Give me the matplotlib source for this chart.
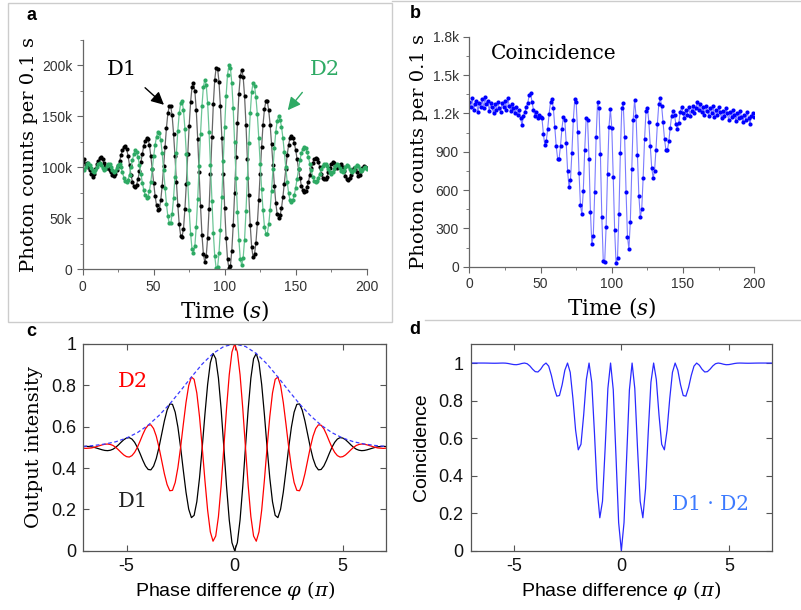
import numpy as np
import matplotlib
matplotlib.use("Agg")
import matplotlib.pyplot as plt
from matplotlib.ticker import MultipleLocator

plt.rcParams['mathtext.fontset'] = 'dejavuserif'
plt.rcParams['axes.unicode_minus'] = False

# ---- panel a: detector counts (k per 0.1 s), one value per second ----
time_s = np.arange(0, 201)
d1_counts = [105,108,102,104,100,97,94,91,94,98,103,106,109,110,108,104,101,99,99,97,
             95,93,92,94,97,101,106,112,117,120,121,118,111,102,93,86,82,
             81,83,89,96,105,113,121,126,129,
             128,122,111,98,85,72,63,58,
             59,68,82,101,120,139,153,160,
             160,151,133,111,86,63,44,33,
             32,40,59,84,113,141,164,179,
             183,175,156,128,95,62,34,15,7,
             13,31,59,94,130,162,186,198,
             197,184,160,129,94,60,31,10,1,
             3,18,43,75,110,144,172,190,196,
             189,170,142,108,73,43,22,12,
             15,26,45,68,94,120,142,157,165,
             165,156,142,123,102,82,65,54,50,
             53,60,71,84,98,112,122,129,
             131,129,124,117,108,98,90,82,78,76,
             77,81,86,93,99,104,108,109,
             108,105,100,94,90,89,89,91,95,99,103,105,104,101,99,100,102,103,100,96,
             92,89,88,90,93,97,99,98,95,92,93,96,99,101,100,99]
d2_counts = [98,97,100,103,104,102,99,96,95,97,100,103,104,102,99,97,98,101,103,103,
             100,97,95,96,99,102,103,100,95,90,87,86,88,93,100,107,113,
             117,115,110,102,94,85,78,73,70,
             71,77,86,98,111,122,130,135,
             134,127,114,97,80,64,52,45,
             45,54,70,91,114,136,153,163,
             165,156,138,113,85,58,35,20,
             16,23,42,69,101,133,160,179,186,
             181,163,135,102,67,36,13,1,
             2,16,39,71,106,140,170,191,200,
             198,183,158,125,90,56,29,10,4,
             11,29,57,90,124,153,174,183,
             180,169,152,129,103,79,58,42,35,
             35,44,58,77,98,119,135,146,150,
             147,140,129,115,100,86,75,68,
             66,68,73,80,89,98,107,114,118,120,
             119,115,110,103,97,91,87,86,
             87,90,94,98,101,103,103,101,98,95,94,95,98,101,103,102,99,96,95,97,
             100,102,101,98,96,95,97,100,102,101,98,96,97,99,100,98]

# ---- panel b: coincidence counts per 0.1 s ----
coinc_counts = [1290,1250,1320,1230,1270,1300,1210,1280,1250,1310,
                1240,1330,1270,1300,1220,1280,1250,1200,1270,1230,
                1290,1240,1210,1280,1250,1300,1230,1320,1260,1220,
                1270,1240,1200,1250,1190,1230,1160,1110,1180,1210,
                1250,1280,1340,1360,1290,1230,1180,1210,1160,1190,1170,
                1160,1038,951,
                982,1078,1197,1289,
                1312,1240,1096,942,843,
                844,944,1081,1173,
                1148,968,746,621,
                678,893,1150,1311,
                1286,1058,737,480,
                413,595,916,1160,
                1151,845,430,174,
                239,583,1012,1287,
                1246,879,388,48,
                37,309,725,1091,1235,
                1084,705,284,25,
                65,414,892,1241,
                1280,1012,588,233,
                138,352,762,1149,1306,
                1182,878,555,387,
                451,695,1000,1217,
                1245,1133,946,775,697,
                750,916,1120,1276,
                1318,1256,1131,997,911,
                910,980,1088,1183,1220,
                1185,1115,1080,
                1122,1208,1250,
                1200,1160,1230,1190,1250,1180,1220,1260,1200,1240,
                1290,1230,1270,1210,1250,1190,1260,1220,1180,1240,
                1200,1260,1170,1230,1190,1250,1210,1160,1220,1180,
                1240,1200,1150,1210,1170,1230,1190,1140,1200,1160,
                1220,1170,1130,1190,1150,1210,1160,1120,1180,1200,1170]

# ---- panel c: output intensity of D1 for phase 0..7 (pi), symmetric ----
phase_half = np.arange(0, 7.001, 0.125)
d1_half = [0.000,0.039,0.149,0.311,0.500,0.684,0.835,0.929,
           0.954,0.909,0.804,0.660,0.500,0.352,0.237,0.171,
           0.160,0.201,0.283,0.389,0.500,0.598,0.670,0.708,
           0.710,0.680,0.628,0.564,0.500,0.446,0.409,0.391,
           0.393,0.410,0.438,0.470,0.500,0.524,0.540,0.547,
           0.545,0.537,0.525,0.512,0.500,0.491,0.486,0.484,
           0.485,0.488,0.492,0.496,0.500,0.503,0.504,0.505,0.504]
env_phase_half = np.arange(0, 7.001, 0.5)
env_half = [1.000,0.988,0.954,0.903,0.840,0.774,0.710,0.654,
            0.607,0.571,0.545,0.527,0.516,0.509,0.504]

phase = np.concatenate([-phase_half[:0:-1], phase_half])
d1_c = np.concatenate([np.array(d1_half)[:0:-1], d1_half])
d2_c = 1 - d1_c
env_phase = np.concatenate([-env_phase_half[:0:-1], env_phase_half])
env_c = np.concatenate([np.array(env_half)[:0:-1], env_half])
coinc_d = 4 * d1_c * d2_c

green = '#2eaa64'
serif = 'DejaVu Serif'
sans = 'Liberation Sans'

fig = plt.figure(figsize=(8.01, 6.10), dpi=100)

# light frames around the upper panels
fig.add_artist(plt.Rectangle((8/801, 1-322/610), 384/801, 319/610, fill=False,
                             ec='#cccccc', lw=1, transform=fig.transFigure))
fig.add_artist(plt.Line2D([392/801, 1], [1-1/610, 1-1/610], color='#cccccc', lw=1))
fig.add_artist(plt.Line2D([425/801, 1], [1-320/610, 1-320/610], color='#cccccc', lw=1))


def origin_style(ax):
    for s in ['top', 'right']:
        ax.spines[s].set_visible(False)
    for s in ['left', 'bottom']:
        ax.spines[s].set_color('#666666')
        ax.spines[s].set_linewidth(0.9)
    ax.tick_params(which='both', direction='out', colors='#666666', labelcolor='#333333',
                   labelsize=10)
    ax.tick_params(which='major', length=4)
    ax.tick_params(which='minor', length=2.5)
    for lab in ax.get_xticklabels() + ax.get_yticklabels():
        lab.set_family(sans)


def matlab_style(ax):
    for s in ax.spines.values():
        s.set_color('#555555')
        s.set_linewidth(0.9)
    ax.tick_params(direction='in', top=True, right=True, length=4, colors='#555555',
                   labelcolor='#111111', labelsize=13, pad=5)
    for lab in ax.get_xticklabels() + ax.get_yticklabels():
        lab.set_family(sans)


# panel a
ax_a = fig.add_axes([0.1032, 0.5585, 0.3546, 0.3759])
ax_a.plot(time_s, d1_counts, '-', color='#666666', lw=0.9)
ax_a.plot(time_s, d1_counts, 'o', color='black', ms=3.0, mew=0)
ax_a.plot(time_s, d2_counts, '-', color='#6cc596', lw=0.9)
ax_a.plot(time_s, d2_counts, 'o', color=green, ms=3.0, mew=0)
ax_a.set_xlim(0, 200)
ax_a.set_ylim(0, 225)
ax_a.set_xticks([0, 50, 100, 150, 200])
ax_a.set_yticks([0, 50, 100, 150, 200])
ax_a.set_yticklabels(['0', '50k', '100k', '150k', '200k'])
ax_a.xaxis.set_minor_locator(MultipleLocator(25))
ax_a.yaxis.set_minor_locator(MultipleLocator(25))
origin_style(ax_a)
ax_a.set_xlabel(r'Time ($s$)', family=serif, fontsize=15.5, labelpad=3)
ax_a.set_ylabel('Photon counts per 0.1 s', family=serif, fontsize=14, labelpad=3)
ax_a.text(27.5, 196, 'D1', family=serif, fontsize=15, ha='center', va='center')
ax_a.text(170.6, 196, 'D2', family=serif, fontsize=15, ha='center', va='center', color=green)
ax_a.annotate('', xy=(58.7, 159.6), xytext=(42.5, 180),
              arrowprops=dict(arrowstyle='-|>', color='black', lw=1, mutation_scale=19))
ax_a.annotate('', xy=(143.2, 154), xytext=(155.9, 175.7),
              arrowprops=dict(arrowstyle='-|>', color=green, lw=1, mutation_scale=19))
fig.text(31.7/801, 1-15/610, 'a', fontsize=13, fontweight='bold', family=sans,
         ha='center', va='center')

# panel b
ax_b = fig.add_axes([0.5859, 0.5628, 0.3558, 0.3770])
ax_b.plot(time_s, coinc_counts, '-', color='#7b7bff', lw=0.8)
ax_b.plot(time_s, coinc_counts, 'o', color='#0000ff', ms=3.0, mew=0)
ax_b.set_xlim(0, 200)
ax_b.set_ylim(0, 1800)
ax_b.set_xticks([0, 50, 100, 150, 200])
ax_b.set_yticks([0, 300, 600, 900, 1200, 1500, 1800])
ax_b.set_yticklabels(['0', '300', '600', '900', '1.2k', '1.5k', '1.8k'])
ax_b.xaxis.set_minor_locator(MultipleLocator(25))
ax_b.yaxis.set_minor_locator(MultipleLocator(150))
origin_style(ax_b)
ax_b.set_xlabel(r'Time ($s$)', family=serif, fontsize=15.5, labelpad=3)
ax_b.set_ylabel('Photon counts per 0.1 s', family=serif, fontsize=14, labelpad=3)
ax_b.text(59, 1669, 'Coincidence', family=serif, fontsize=14.5, ha='center', va='center')
fig.text(415/801, 1-13/610, 'b', fontsize=13, fontweight='bold', family=sans,
         ha='center', va='center')

# panel c
ax_c = fig.add_axes([0.104, 0.0972, 0.3779, 0.3389])
ax_c.plot(phase, d1_c, color='black', lw=0.9)
ax_c.plot(phase, d2_c, color='#ff0000', lw=0.9)
ax_c.plot(env_phase, env_c, '--', color='#3a3aff', lw=0.9, dashes=(3, 2))
ax_c.set_xlim(-7, 7)
ax_c.set_ylim(0, 1)
ax_c.set_xticks([-5, 0, 5])
ax_c.set_yticks([0, 0.2, 0.4, 0.6, 0.8, 1])
ax_c.set_yticklabels(['0', '0.2', '0.4', '0.6', '0.8', '1'])
matlab_style(ax_c)
ax_c.set_xlabel(r'Phase difference $\varphi\ (\pi)$', family=sans, fontsize=14, labelpad=3)
ax_c.set_ylabel('Output intensity', family=serif, fontsize=14, labelpad=6)
ax_c.text(-4.69, 0.818, 'D2', family=serif, fontsize=15, color='#ff0000',
          ha='center', va='center')
ax_c.text(-4.69, 0.237, 'D1', family=serif, fontsize=15, color='#222222',
          ha='center', va='center')
fig.text(31.7/801, 1-331.7/610, 'c', fontsize=13, fontweight='bold', family=sans,
         ha='center', va='center')

# panel d
ax_d = fig.add_axes([0.5876, 0.0972, 0.3762, 0.3384])
ax_d.plot(phase, coinc_d, color='#2a2aff', lw=0.9)
ax_d.set_xlim(-7, 7)
ax_d.set_ylim(0, 1.1)
ax_d.set_xticks([-5, 0, 5])
ax_d.set_yticks([0, 0.2, 0.4, 0.6, 0.8, 1])
ax_d.set_yticklabels(['0', '0.2', '0.4', '0.6', '0.8', '1'])
matlab_style(ax_d)
ax_d.set_xlabel(r'Phase difference $\varphi\ (\pi)$', family=sans, fontsize=14, labelpad=3)
ax_d.set_ylabel('Coincidence', family=sans, fontsize=14, labelpad=6)
ax_d.text(4.12, 0.244, 'D1 \u00b7 D2', family=serif, fontsize=14.5, color='#3d7bff',
          ha='center', va='center')
fig.text(415/801, 1-330/610, 'd', fontsize=13, fontweight='bold', family=sans,
         ha='center', va='center')

fig.savefig('out.png', dpi=100)
